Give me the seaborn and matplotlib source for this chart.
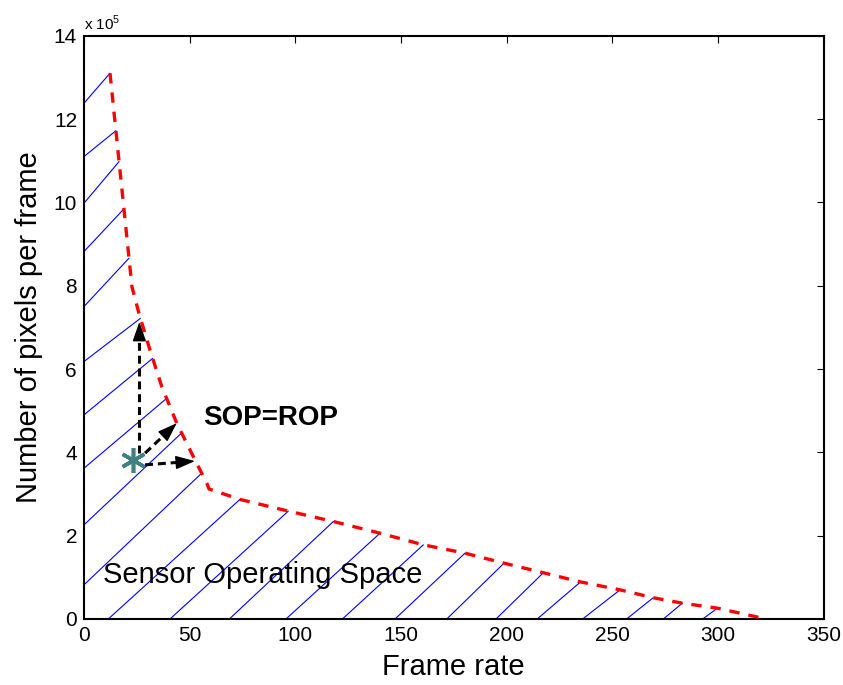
import numpy as np
import pandas as pd
import matplotlib
matplotlib.use("Agg")
import matplotlib.pyplot as plt
import seaborn as sns

# ---- data (y values in units of 1e5 pixels) ----
frame_rate = [12.3, 22.7, 26.2, 31.2, 36.8, 43.9, 52.5, 58.1, 59.2, 73.8, 96.7,
              118.0, 140.1, 160.6, 180.3, 198.8, 217.4, 235.0, 253.7, 269.4,
              283.2, 299.8, 319.3]
pixels_e5 = [13.10, 7.97, 7.30, 6.46, 5.58, 4.70, 3.82, 3.26, 3.12, 2.87, 2.59,
             2.34, 2.06, 1.78, 1.58, 1.34, 1.11, 0.89, 0.70, 0.51,
             0.38, 0.26, 0.04]

# hatch lines starting on the y axis (x = 0): start y, end x on the boundary
hatch_left_y0 = [12.38, 11.10, 9.98, 8.82, 7.50, 6.18, 4.90, 3.62, 2.26, 0.82]
hatch_left_x1 = [12.3, 15.1, 16.6, 18.9, 21.3, 26.7, 32.5, 39.1, 46.2, 55.7]
# hatch lines starting on the x axis (y = 0): start x, end x on the boundary
hatch_bot_x0 = [11.5, 40.7, 68.8, 95.6, 122.3, 147.2, 171.7, 195.0, 214.5,
                236.0, 256.8, 274.2, 292.8]
hatch_bot_x1 = [73.8, 96.7, 118.0, 140.1, 160.6, 180.3, 198.8, 217.4, 235.0,
                253.7, 269.4, 283.2, 299.8]

# operating point and arrows
op_point = (23.4, 3.81)
arrow_starts = [(26.2, 3.98), (28.9, 3.98), (28.9, 3.70)]
arrow_tips = [(26.2, 7.13), (43.9, 4.70), (52.5, 3.79)]

x_ticks = [0, 50, 100, 150, 200, 250, 300, 350]
y_ticks = [0, 2, 4, 6, 8, 10, 12, 14]

# ---- style ----
sns.set_theme(style="white")
plt.rcParams['font.family'] = ['Liberation Sans', 'DejaVu Sans']
plt.rcParams['mathtext.fontset'] = 'custom'
plt.rcParams['mathtext.rm'] = 'Liberation Sans'
for key in ['text.color', 'axes.labelcolor', 'xtick.color', 'ytick.color']:
    plt.rcParams[key] = 'black'

fig = plt.figure(figsize=(8.43, 6.85), dpi=100)
ax = fig.add_axes([84 / 843, 66 / 685, 739.5 / 843, 583.3 / 685])
ax.set_xlim(0, 350)
ax.set_ylim(0, 14)

# hatch lines (blue)
for y0, x1 in zip(hatch_left_y0, hatch_left_x1):
    y1 = np.interp(x1, frame_rate, pixels_e5)
    ax.plot([0, x1], [y0, y1], color='#0000ff', lw=0.8, zorder=1)
for x0, x1 in zip(hatch_bot_x0, hatch_bot_x1):
    y1 = np.interp(x1, frame_rate, pixels_e5)
    ax.plot([x0, x1], [0, y1], color='#0000ff', lw=0.8, zorder=1)

# boundary curve
df = pd.DataFrame({"Frame rate": frame_rate, "Pixels": pixels_e5})
sns.lineplot(data=df, x="Frame rate", y="Pixels", ax=ax, color='#ff0000',
             lw=2.4, linestyle=(0, (3.1, 2.7)), sort=False, zorder=3)

# arrows: dashed stem + solid head
head_px = 17.0
for (xs, ys), (xt, yt) in zip(arrow_starts, arrow_tips):
    p0 = ax.transData.transform((xs, ys))
    p1 = ax.transData.transform((xt, yt))
    u = (p1 - p0) / np.hypot(*(p1 - p0))
    base_disp = p1 - u * head_px
    bx, by = ax.transData.inverted().transform(base_disp)
    ax.plot([xs, bx], [ys, by], color='black', lw=2.2,
            linestyle=(0, (2.6, 1.6)), zorder=4)
    ax.annotate('', xy=(xt, yt), xytext=(-u[0] * head_px, -u[1] * head_px),
                textcoords='offset pixels',
                arrowprops=dict(arrowstyle='-|>,head_length=1.2,head_width=0.42',
                                lw=1.0, color='black', mutation_scale=10,
                                shrinkA=0, shrinkB=0),
                zorder=4)

# operating point
ax.plot([op_point[0]], [op_point[1]], marker=(6, 2, 0), ms=18, mew=2.6,
        color='#3f8080', linestyle='none', zorder=5)

ax.text(56.3, 4.83, 'SOP=ROP', fontsize=20, fontweight='bold',
        ha='left', va='center', color='black')
ax.text(9.1, 1.06, 'Sensor Operating Space', fontsize=21,
        ha='left', va='center', color='black')

ax.set_xticks(x_ticks)
ax.set_yticks(y_ticks)
ax.set_xticklabels([str(v) for v in x_ticks])
ax.set_yticklabels([str(v) for v in y_ticks])
ax.tick_params(direction='in', top=True, right=True, length=5, width=0.8,
               labelsize=15, pad=5, colors='black')
for sp in ax.spines.values():
    sp.set_color('black')
    sp.set_linewidth(1.5)
ax.set_xlabel('Frame rate', fontsize=21, labelpad=6, color='black')
ax.set_ylabel('Number of pixels per frame', fontsize=21, labelpad=8, color='black')
ax.text(0.0, 1.004, r'x 10$^{\mathregular{5}}$', transform=ax.transAxes,
        fontsize=11, ha='left', va='bottom', color='black')

fig.savefig('out.png', dpi=100)
